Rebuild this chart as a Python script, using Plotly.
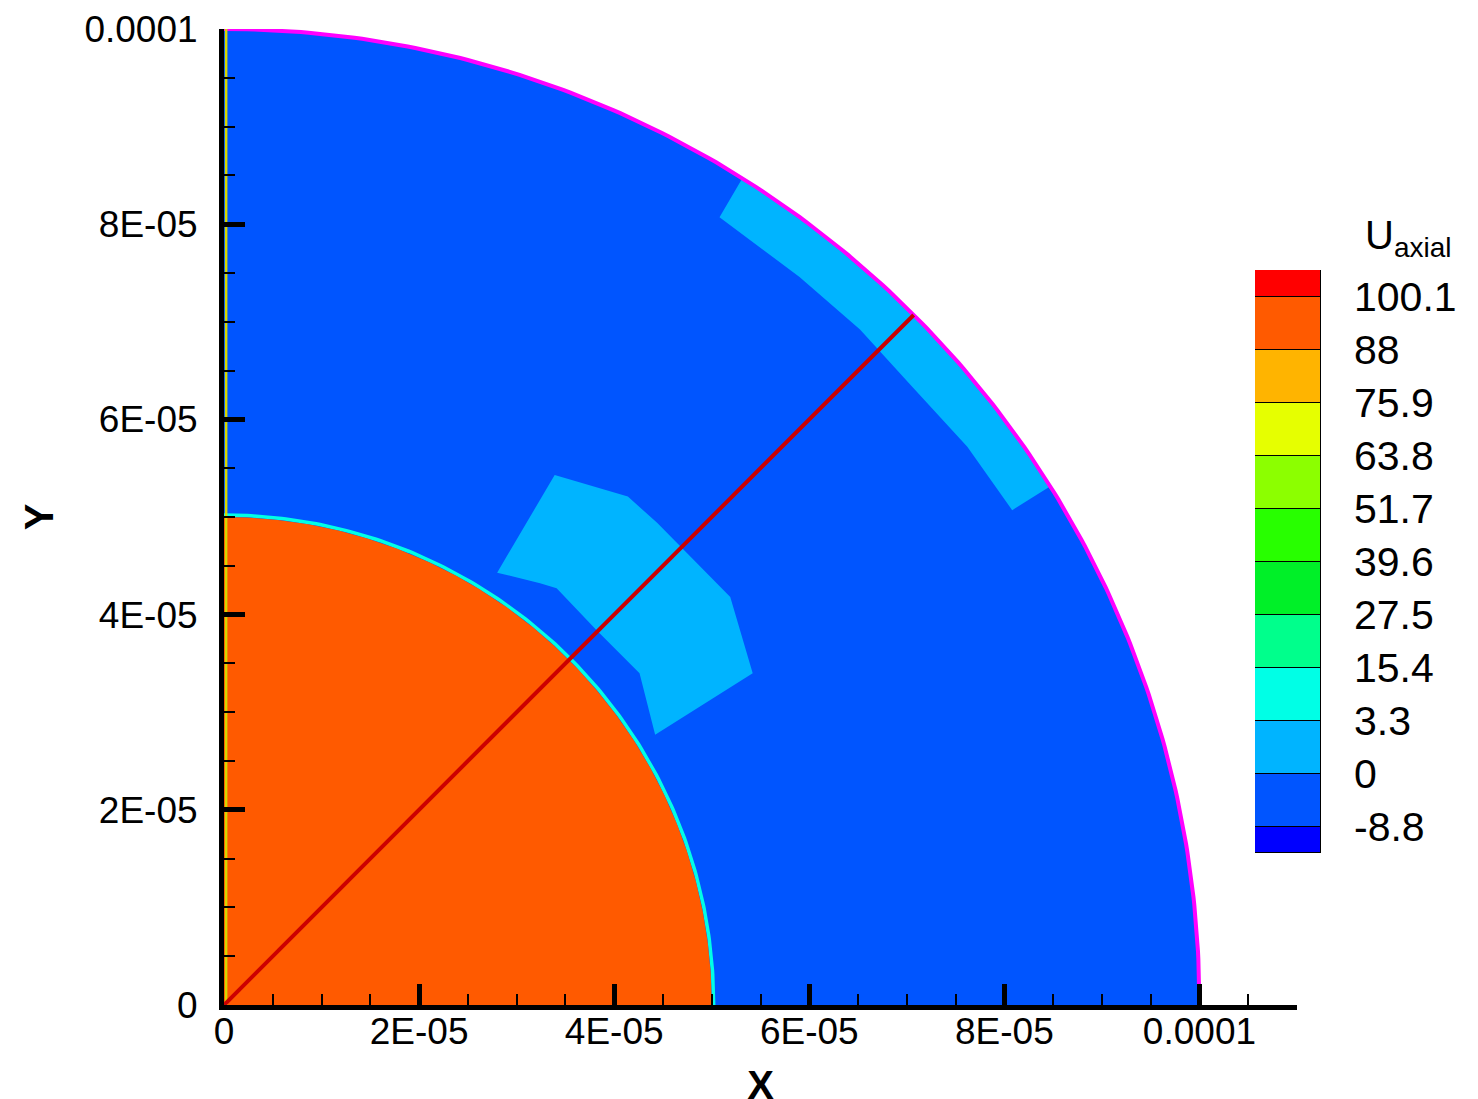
import numpy as np
import plotly.graph_objects as go

# ---------------- data ----------------
outer_radius = 1.0e-4
inner_radius = 5.0e-5
probe_line_x = [0.0, 7.07e-5]
probe_line_y = [0.0, 7.07e-5]

# light-blue patch between the regions (polygon vertices)
mid_patch_x = [3.39e-5, 4.14e-5, 4.44e-5, 4.95e-5, 5.19e-5, 5.42e-5, 4.42e-5, 4.26e-5, 3.82e-5, 3.41e-5, 3.24e-5, 2.80e-5]
mid_patch_y = [5.43e-5, 5.21e-5, 4.94e-5, 4.43e-5, 4.18e-5, 3.40e-5, 2.77e-5, 3.40e-5, 3.84e-5, 4.27e-5, 4.32e-5, 4.43e-5]

# light-blue band near the rim: outer arc angles (deg) and inner-edge vertices
rim_patch_angles = [57.9, 32.1]
rim_patch_inner_x = [8.08e-5, 7.62e-5, 7.06e-5, 6.52e-5, 5.90e-5, 5.08e-5]
rim_patch_inner_y = [5.07e-5, 5.72e-5, 6.33e-5, 6.92e-5, 7.46e-5, 8.07e-5]

# colour legend (bottom -> top)
legend_colors = ["#0000FF", "#0055FF", "#00B4FF", "#00FFE6", "#00FF8C", "#00F028",
                 "#28FF00", "#8CFF00", "#E6FF00", "#FFB400", "#FF5A00", "#FF0000"]
legend_levels = ["-8.8", "0", "3.3", "15.4", "27.5", "39.6", "51.7", "63.8", "75.9", "88", "100.1"]

x_tick_vals = [0, 2e-5, 4e-5, 6e-5, 8e-5, 1e-4]
x_tick_text = ["0", "2E-05", "4E-05", "6E-05", "8E-05", "0.0001"]
y_tick_vals = [0, 2e-5, 4e-5, 6e-5, 8e-5, 1e-4]
y_tick_text = ["0", "2E-05", "4E-05", "6E-05", "8E-05", "0.0001"]

# ---------------- figure ----------------
W, H = 1478, 1099
FONT = "Liberation Sans, Arial, sans-serif"

fig = go.Figure()


def quarter(r, n=200):
    t = np.linspace(0, np.pi / 2, n)
    return np.concatenate([[0], r * np.cos(t), [0]]), np.concatenate([[0], r * np.sin(t), [0]])


# outer domain (blue)
ox, oy = quarter(outer_radius)
fig.add_trace(go.Scatter(x=ox, y=oy, fill="toself", fillcolor=legend_colors[1],
                         mode="lines", line=dict(width=0, color=legend_colors[1]),
                         hoverinfo="skip", showlegend=False))

# rim patch
ta = np.radians(np.linspace(rim_patch_angles[0], rim_patch_angles[1], 60))
rx = np.concatenate([outer_radius * np.cos(ta), rim_patch_inner_x])
ry = np.concatenate([outer_radius * np.sin(ta), rim_patch_inner_y])
fig.add_trace(go.Scatter(x=rx, y=ry, fill="toself", fillcolor=legend_colors[2],
                         mode="lines", line=dict(width=0, color=legend_colors[2]),
                         hoverinfo="skip", showlegend=False))

# mid patch
fig.add_trace(go.Scatter(x=mid_patch_x, y=mid_patch_y, fill="toself", fillcolor=legend_colors[2],
                         mode="lines", line=dict(width=0, color=legend_colors[2]),
                         hoverinfo="skip", showlegend=False))

# inner core boundary (cyan) and core (orange)
tt = np.linspace(0, np.pi / 2, 200)
fig.add_trace(go.Scatter(x=inner_radius * 1.004 * np.cos(tt), y=inner_radius * 1.004 * np.sin(tt),
                         mode="lines", line=dict(width=3.5, color=legend_colors[3]),
                         hoverinfo="skip", showlegend=False))
ix, iy = quarter(inner_radius)
fig.add_trace(go.Scatter(x=ix, y=iy, fill="toself", fillcolor=legend_colors[10],
                         mode="lines", line=dict(width=0, color=legend_colors[10]),
                         hoverinfo="skip", showlegend=False))

# outer boundary (magenta)
fig.add_trace(go.Scatter(x=outer_radius * np.cos(tt), y=outer_radius * np.sin(tt),
                         mode="lines", line=dict(width=4, color="#FF00FF"),
                         hoverinfo="skip", showlegend=False))

# left edge (yellow)
fig.add_trace(go.Scatter(x=[2.2e-7, 2.2e-7], y=[0, outer_radius],
                         mode="lines", line=dict(width=2.5, color="#D8D800"),
                         hoverinfo="skip", showlegend=False))

# probe line (red)
fig.add_trace(go.Scatter(x=probe_line_x, y=probe_line_y, mode="lines",
                         line=dict(width=4, color="#CC0000"),
                         hoverinfo="skip", showlegend=False))

# colour legend as stacked bars
heights = [0.5] + [1.0] * 10 + [0.5]
for h, c in zip(heights, legend_colors):
    fig.add_trace(go.Bar(x=[0], y=[h], marker=dict(color=c, line=dict(color="black", width=1.5)),
                         width=1.0, xaxis="x2", yaxis="y2", hoverinfo="skip", showlegend=False))

axis_common = dict(showline=True, linecolor="black", linewidth=5, mirror=False,
                   ticks="inside", ticklen=21, tickwidth=5, tickcolor="black",
                   showgrid=False, zeroline=False, automargin=False,
                   tickfont=dict(family=FONT, size=37, color="black"),
                   minor=dict(ticks="inside", ticklen=11, tickwidth=2, tickcolor="black",
                              tickmode="linear", tick0=0, dtick=0.5e-5, showgrid=False))

fig.update_layout(
    width=W, height=H,
    margin=dict(l=0, r=0, t=0, b=0, autoexpand=False),
    paper_bgcolor="white", plot_bgcolor="rgba(0,0,0,0)",
    barmode="stack", bargap=0,
    xaxis=dict(domain=[216 / W, 1289 / W], range=[0, 1.1e-4],
               tickmode="array", tickvals=x_tick_vals, ticktext=x_tick_text,
               ticklabelstandoff=-10,
               title=dict(text="<b>X</b>", font=dict(family=FONT, size=40, color="black"), standoff=71),
               **axis_common),
    yaxis=dict(domain=[1 - 997 / H, 1 - 21 / H], range=[0, 1e-4],
               tickmode="array", tickvals=y_tick_vals, ticktext=y_tick_text,
               ticklabelstandoff=14,
               title=dict(text="<b>Y</b>", font=dict(family=FONT, size=40, color="black"), standoff=20),
               **axis_common),
    xaxis2=dict(domain=[1247 / W, 1313 / W], range=[-0.5, 0.5], anchor="y2", automargin=False,
                showticklabels=False, showline=False, showgrid=False, zeroline=False, ticks=""),
    yaxis2=dict(domain=[1 - 845 / H, 1 - 262 / H], range=[0, 11], anchor="x2", side="right",
                tickmode="array", tickvals=[0.5 + i for i in range(11)], ticktext=legend_levels,
                showline=False, showgrid=False, zeroline=False, ticks="", automargin=False,
                ticklabelstandoff=32,
                tickfont=dict(family=FONT, size=41, color="black")),
    annotations=[dict(text="U<sub>axial</sub>", x=1355 / W, y=1 - 230 / H,
                      xref="paper", yref="paper", xanchor="left", yanchor="middle",
                      showarrow=False, font=dict(family=FONT, size=40, color="black"))],
)

fig.write_html("out.html")
